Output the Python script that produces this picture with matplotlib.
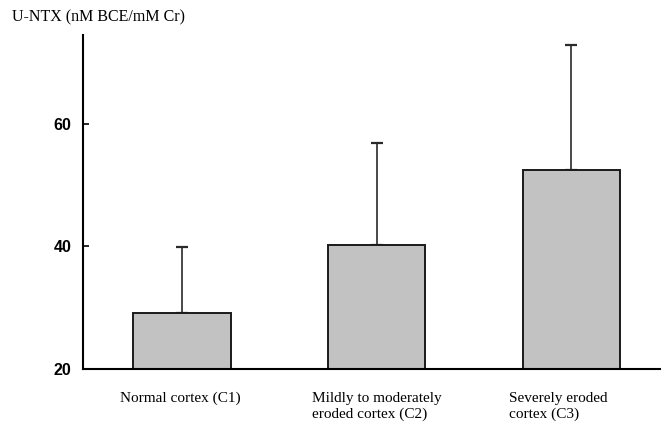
import matplotlib.pyplot as plt
import numpy as np

# --- data ---
categories = ['Normal cortex (C1)',
              'Mildly to moderately\neroded cortex (C2)',
              'Severely eroded\ncortex (C3)']
means = [29.1, 40.2, 52.5]
upper_err = [10.7, 16.7, 20.3]
yticks = [20, 40, 60]

fig = plt.figure(figsize=(6.61, 4.23), dpi=100)
ax = fig.add_axes([0.125, 0.128, 0.875, 0.79])

x = np.arange(len(categories))
ax.bar(x, [m - 20 for m in means], bottom=20, width=0.5,
       color='#c2c2c2', edgecolor='#1a1a1a', linewidth=1.4, zorder=2)
ax.errorbar(x, means, yerr=[[0] * len(means), upper_err], fmt='none',
            ecolor='#2a2a2a', elinewidth=1.2, capsize=4, capthick=1.6, zorder=1)

ax.set_xlim(-0.51, 2.46)
ax.set_ylim(20, 74.5)
ax.set_yticks(yticks)
ax.set_yticklabels([str(t) for t in yticks], fontfamily='Liberation Sans',
                   fontweight='bold', fontsize=11.5)
ax.tick_params(axis='y', direction='in', length=4, width=1.2, pad=8)
ax.set_xticks([])

for s in ['top', 'right']:
    ax.spines[s].set_visible(False)
ax.spines['left'].set_linewidth(1.5)
ax.spines['bottom'].set_linewidth(1.5)

# category labels under the axis (left-aligned blocks like the scan)
label_x = [-0.32, 0.67, 1.68]
for lx, lab in zip(label_x, categories):
    ax.text(lx, -0.068, lab, transform=ax.get_xaxis_transform(),
            ha='left', va='top', fontfamily='Liberation Serif',
            fontsize=11, linespacing=1.3)

fig.text(0.018, 0.958, 'U-NTX (nM BCE/mM Cr)', fontfamily='Liberation Serif',
         fontsize=11.5, ha='left', va='center')

fig.savefig('out.png', dpi=100)
